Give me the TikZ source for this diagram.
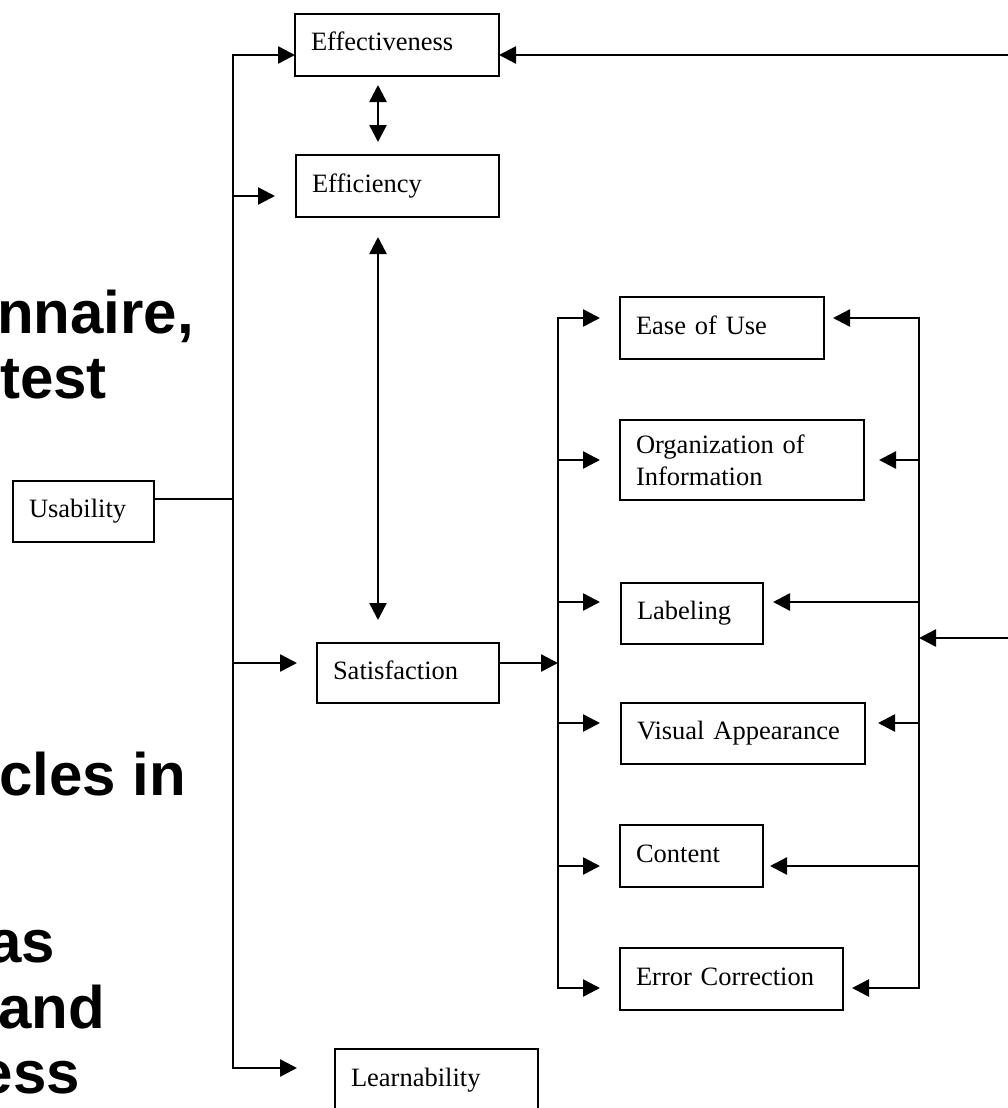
\documentclass[tikz,border=0pt]{standalone}
\usepackage{fontspec}
\setmainfont{Liberation Serif}
\newfontfamily\boldsans{Liberation Sans}
\usetikzlibrary{arrows.meta,calc}
\begin{document}
\begin{tikzpicture}[x=1pt,y=-1pt,
  line width=2.5pt,
  boxnode/.style={draw, line width=2.5pt, rectangle, anchor=north west, outer sep=0pt,
    inner xsep=16pt, inner ysep=0pt, align=left, font=\fontsize{26.5}{32}\selectfont},
  oneline/.style={text height=20pt, text depth=8pt},
  arr/.style={-{Triangle[length=17pt,width=17pt]}},
  darr/.style={{Triangle[length=17pt,width=17pt]}-{Triangle[length=17pt,width=17pt]}},
  overlaytext/.style={font=\boldsans\bfseries\fontsize{60}{65}\selectfont, inner sep=0pt}
]
\fill[white] (0,0) rectangle (1008,1108);
\useasboundingbox (0,0) rectangle (1008,1108);

% overlay text fragments
\node[overlaytext, anchor=base west] (o1) at (-4,333) {nnaire,};
\node[overlaytext, anchor=base west] (o2) at (-1,398) {test};
\node[overlaytext, anchor=base west] (o3) at (-2,795) {cles in};
\node[overlaytext, anchor=base east] (o4) at (56,962) {as};
\node[overlaytext, anchor=base west] (o5) at (-3,1028) {and};
\node[overlaytext, anchor=base east] (o6) at (81,1093) {ess};

% boxes
\node[boxnode, oneline, text width=109pt, minimum height=61pt] (usab) at (13,481) {Usability};
\node[boxnode, oneline, text width=172pt, minimum height=62pt] (eff) at (295,14) {Effectiveness};
\node[boxnode, oneline, text width=171pt, minimum height=62pt] (effi) at (296,155) {Efficiency};
\node[boxnode, oneline, text width=150pt, minimum height=60pt] (sat) at (317,643) {Satisfaction};
\node[boxnode, oneline, text width=171pt, minimum height=62pt] (learn) at (335,1049) {Learnability};
\node[boxnode, oneline, text width=172pt, minimum height=62pt] (ease) at (620,297) {Ease of Use};
\node[boxnode, text width=212pt, minimum height=80pt] (org) at (620,420) {Organization of\\Information};
\node[boxnode, oneline, text width=110pt, minimum height=61pt] (lab) at (621,583) {Labeling};
\node[boxnode, oneline, text width=212pt, minimum height=61pt] (vis) at (621,703) {Visual Appearance};
\node[boxnode, oneline, text width=111pt, minimum height=62pt] (cont) at (620,825) {Content};
\node[boxnode, oneline, text width=191pt, minimum height=62pt] (err) at (620,948) {Error Correction};

% left trunk
\coordinate (tTop) at (233,55);
\coordinate (tEffi) at (233,196);
\coordinate (tUsab) at (233,499);
\coordinate (tSat) at (233,663);
\coordinate (tBot) at (233,1068);
\draw (tUsab -| usab.east) -- (tUsab);
\draw[arr] (tUsab) |- (tTop -| eff.west);
\draw[arr, shorten >=38pt] (tUsab) |- (tBot -| learn.west);
\draw[arr, shorten >=21pt] (tEffi) -- (tEffi -| effi.west);
\draw[arr, shorten >=20pt] (tSat) -- (tSat -| sat.west);

% vertical double arrows
\coordinate (ax) at (378,0);
\draw[darr, shorten <=9pt, shorten >=13pt] (eff.south -| ax) -- (effi.north -| ax);
\draw[darr, shorten <=20pt, shorten >=23pt] (effi.south -| ax) -- (sat.north -| ax);

% satisfaction trunk
\coordinate (s2) at (558,663);
\coordinate (s2Top) at (558,318);
\coordinate (s2Org) at (558,460);
\coordinate (s2Lab) at (558,602);
\coordinate (s2Vis) at (558,723);
\coordinate (s2Cont) at (558,866);
\coordinate (s2Bot) at (558,988);
\draw[arr] (s2 -| sat.east) -- (s2);
\draw[arr, shorten >=20pt] (s2) |- (s2Top -| ease.west);
\draw[arr, shorten >=20pt] (s2) |- (s2Bot -| err.west);
\draw[arr, shorten >=20pt] (s2Org) -- (s2Org -| org.west);
\draw[arr, shorten >=21pt] (s2Lab) -- (s2Lab -| lab.west);
\draw[arr, shorten >=21pt] (s2Vis) -- (s2Vis -| vis.west);
\draw[arr, shorten >=20pt] (s2Cont) -- (s2Cont -| cont.west);

% right trunk
\coordinate (rIn) at (919,638);
\coordinate (rEdge) at (1008,638);
\coordinate (rTop) at (919,318);
\coordinate (rOrg) at (919,460);
\coordinate (rLab) at (919,602);
\coordinate (rVis) at (919,723);
\coordinate (rCont) at (919,866);
\coordinate (rBot) at (919,988);
\draw[arr] (rEdge) -- (rIn);
\draw[arr, shorten >=9pt] (rIn) |- (rTop -| ease.east);
\draw[arr, shorten >=9pt] (rIn) |- (rBot -| err.east);
\draw[arr, shorten >=15pt] (rOrg) -- (rOrg -| org.east);
\draw[arr, shorten >=10pt] (rLab) -- (rLab -| lab.east);
\draw[arr, shorten >=13pt] (rVis) -- (rVis -| vis.east);
\draw[arr, shorten >=7pt] (rCont) -- (rCont -| cont.east);

% top right incoming
\coordinate (eEdge) at (1008,55);
\draw[arr] (eEdge) -- (eEdge -| eff.east);
\end{tikzpicture}
\end{document}
